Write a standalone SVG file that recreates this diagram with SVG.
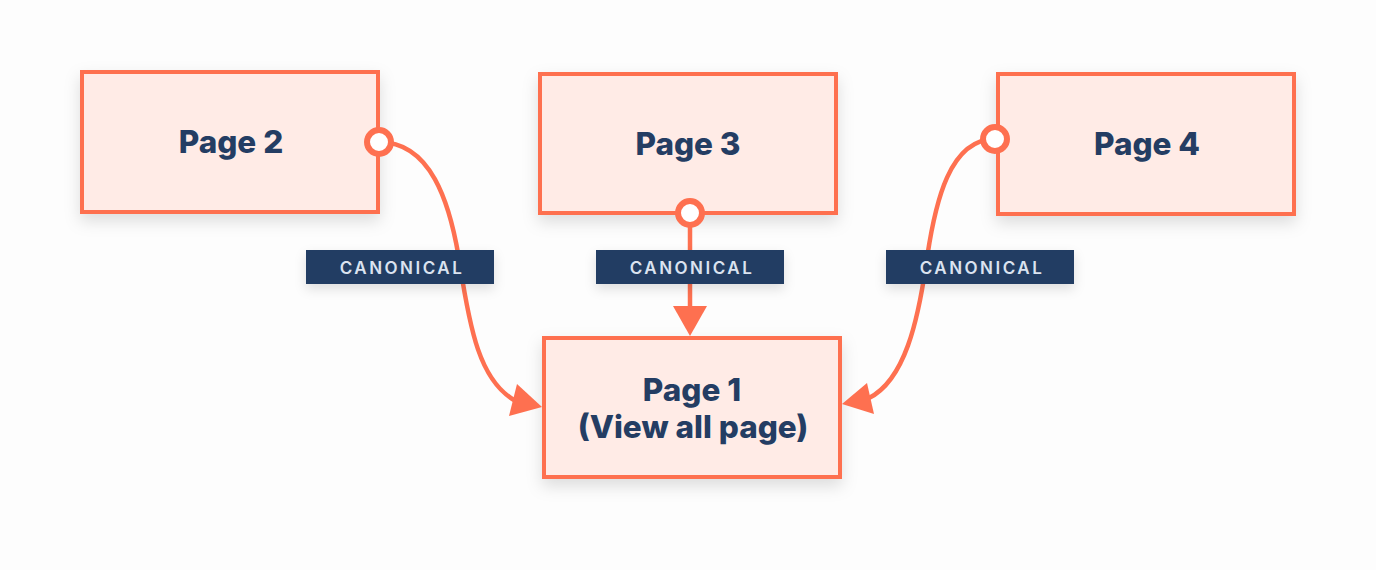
<svg xmlns="http://www.w3.org/2000/svg" width="1376" height="570" viewBox="0 0 1376 570">
  <defs>
    <filter id="shadow" x="-20%" y="-20%" width="140%" height="160%">
      <feDropShadow dx="0" dy="7" stdDeviation="8" flood-color="#000000" flood-opacity="0.13"/>
    </filter>
    <filter id="lshadow" x="-20%" y="-40%" width="140%" height="200%">
      <feDropShadow dx="0" dy="5" stdDeviation="6" flood-color="#000000" flood-opacity="0.12"/>
    </filter>
  </defs>
  <style>
    .box { fill: #ffebe6; stroke: #fe7050; stroke-width: 4; filter: url(#shadow); }
    .title { font-family: Inter, "Liberation Sans", sans-serif; font-weight: 800; font-size: 31.5px; fill: #243d63; text-anchor: middle; }
    .lab { fill: #243c63; filter: url(#lshadow); }
    .labt { font-family: Inter, "Liberation Sans", sans-serif; font-weight: 600; font-size: 17px; letter-spacing: 2.5px; fill: #dbe3f0; text-anchor: middle; }
    .wire { fill: none; stroke: #fe7050; stroke-width: 4.5; }
    .head { fill: #fe7050; }
    .port { fill: #ffffff; stroke: #fe7050; stroke-width: 6; }
  </style>
  <rect width="1376" height="570" fill="#fdfdfd"/>

  <g id="page2">
    <rect class="box" x="82" y="72" width="296" height="140"/>
    <text class="title" x="231" y="153">Page 2</text>
  </g>
  <g id="page3">
    <rect class="box" x="540" y="74" width="296" height="139"/>
    <text class="title" x="688" y="155">Page 3</text>
  </g>
  <g id="page4">
    <rect class="box" x="998" y="74" width="296" height="140"/>
    <text class="title" x="1147" y="155">Page 4</text>
  </g>
  <g id="page1">
    <rect class="box" x="544" y="338" width="296" height="139"/>
    <text class="title" x="692" y="401">Page 1</text>
    <text class="title" x="693" y="438">(View all page)</text>
  </g>

  <g id="connectors">
    <path class="wire" d="M379,142 C430,142 450,200 460,265 C470,330 480,380 514,400"/>
    <polygon class="head" points="542,407 517,384 509,416"/>
    <path class="wire" d="M690,222 L690,310"/>
    <polygon class="head" points="690,336 673,306 707,306"/>
    <path class="wire" d="M995,139 C950,139 935,200 926,265 C918,320 905,380 869,398"/>
    <polygon class="head" points="842,404 867,383 874,414"/>
    <circle class="port" cx="379" cy="142" r="12"/>
    <circle class="port" cx="690" cy="213" r="12"/>
    <circle class="port" cx="995" cy="139" r="12"/>
  </g>

  <g id="label1">
    <rect class="lab" x="306" y="250" width="188" height="34"/>
    <text class="labt" x="402" y="273.5">CANONICAL</text>
  </g>
  <g id="label2">
    <rect class="lab" x="596" y="250" width="188" height="34"/>
    <text class="labt" x="692" y="273.5">CANONICAL</text>
  </g>
  <g id="label3">
    <rect class="lab" x="886" y="250" width="188" height="34"/>
    <text class="labt" x="982" y="273.5">CANONICAL</text>
  </g>
</svg>
